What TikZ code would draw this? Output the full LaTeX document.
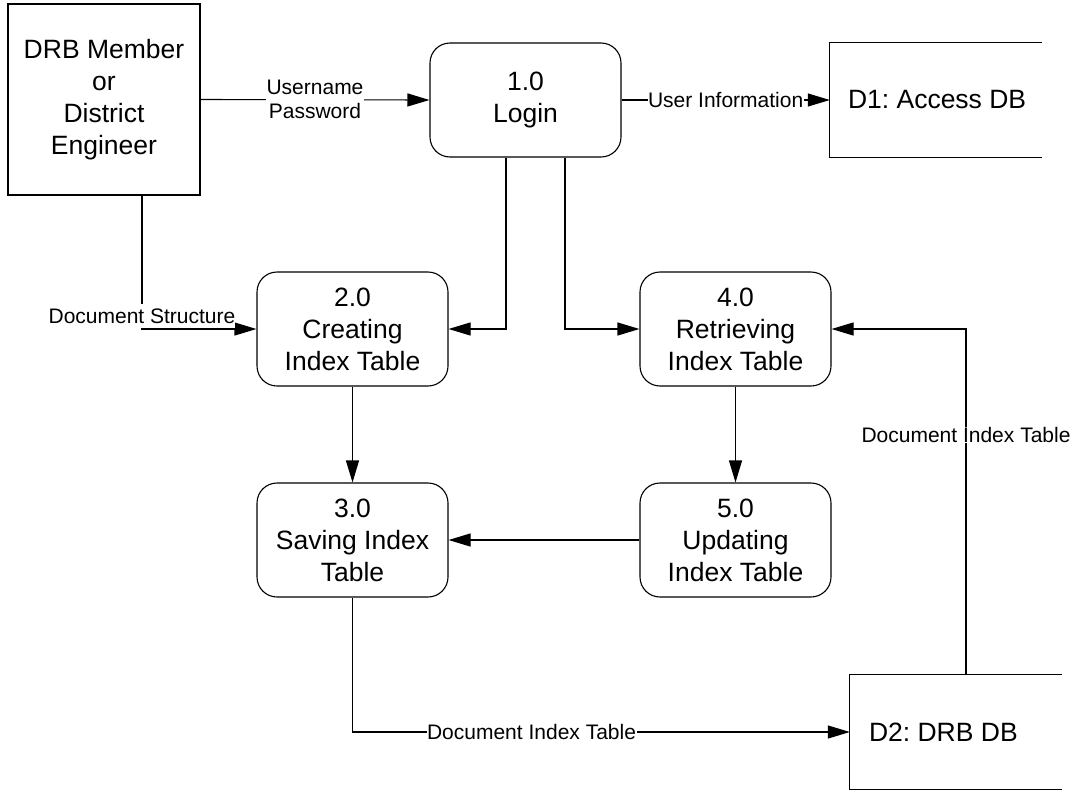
\documentclass[tikz,border=0pt]{standalone}
\usepackage{fontspec}
\setmainfont{Liberation Sans}
\usetikzlibrary{arrows.meta}
\newcommand\maintxt{\fontsize{26.5}{32}\selectfont}
\newcommand\lbltxt{\fontsize{21}{24}\selectfont}
\frenchspacing
\begin{document}
\begin{tikzpicture}[x=1pt,y=-1pt,
  entity/.style={draw, line width=1.1pt, minimum width=192pt, minimum height=191pt,
    align=center, font=\maintxt, inner sep=0pt},
  proc/.style={draw, line width=1.1pt, rounded corners=20pt, minimum width=191pt,
    minimum height=114pt, align=center, font=\maintxt, inner sep=0pt},
  store/.style={minimum width=212pt, minimum height=114pt, inner sep=0pt},
  storetext/.style={anchor=west, font=\maintxt, inner sep=0pt},
  flow/.style={draw, line width=1.1pt, -{Triangle[length=22pt,width=13pt]}},
  lbl/.style={fill=white, font=\lbltxt, align=center, inner sep=0.5pt},
]
\useasboundingbox (0,0) rectangle (1078,790);

% external entity and processes
\node[entity] (drb) at (104,99.5) {DRB Member\\or\\District\\Engineer};
\node[proc] (p1) at (525.5,100) {1.0\\Login};
\node[proc] (p2) at (352.5,329) {2.0\\Creating\\Index Table};
\node[proc] (p4) at (735.5,329) {4.0\\Retrieving\\Index Table};
\node[proc] (p3) at (352.5,540) {3.0\\Saving Index\\Table};
\node[proc] (p5) at (735.5,540) {5.0\\Updating\\Index Table};

% data stores (open on the right)
\node[store] (d1) at (936,100) {};
\draw[line width=1.1pt] (d1.north east) -- (d1.north west) -- (d1.south west) -- (d1.south east);
\node[storetext] (d1t) at ([xshift=18pt]d1.west) {D1: Access DB};
\node[store] (d2) at (956,732) {};
\draw[line width=1.1pt] (d2.north east) -- (d2.north west) -- (d2.south west) -- (d2.south east);
\node[storetext] (d2t) at ([xshift=19pt]d2.west) {D2: DRB DB};

% data flows
\draw[flow] (drb.east) -- node[lbl] {Username\\Password} (p1.west);
\draw[flow] (p1.east) -- node[lbl] {User Information} (d1.west);
\draw[flow] ([xshift=38pt]drb.south) |- node[lbl, pos=0.5, yshift=13pt, minimum height=24pt, inner sep=0pt] {Document Structure} (p2.west);
\draw[flow] ([xshift=-19.5pt]p1.south) |- (p2.east);
\draw[flow] ([xshift=39.5pt]p1.south) |- (p4.west);
\draw[flow] (p2.south) -- (p3.north);
\draw[flow] (p4.south) -- (p5.north);
\draw[flow] (p5.west) -- (p3.east);
\draw[flow] (p3.south) |- node[lbl, pos=0.68] {Document Index Table} (d2.west);
\draw[flow] ([xshift=10pt]d2.north) |- node[lbl, pos=0.347] {Document Index Table} (p4.east);
\end{tikzpicture}
\end{document}
